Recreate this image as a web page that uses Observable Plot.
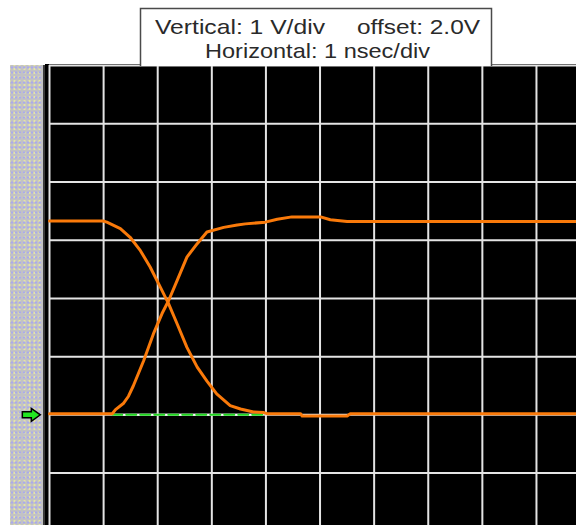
<!DOCTYPE html>
<html>
<head>
<meta charset="utf-8">
<script src="https://cdn.jsdelivr.net/npm/d3@7"></script>
<script src="https://cdn.jsdelivr.net/npm/@observablehq/plot@0.6"></script>
<style>
  html, body { margin: 0; padding: 0; background: #fff; }
  #wrap { position: relative; width: 576px; height: 525px; overflow: hidden; font-family: "Liberation Sans", Arial, sans-serif; }
  #screen { position: absolute; left: 45px; top: 64px; width: 531px; height: 461px; background: #000; }
  #strip { position: absolute; left: 10px; top: 65px; width: 33px; height: 460px;
    border-right: 2px solid #3a3a3a;
    background:
      radial-gradient(circle, #a9a9ee 0.9px, transparent 1.3px) 0 0 / 4px 5px,
      radial-gradient(circle, #e4e4a6 0.9px, transparent 1.3px) 2px 2px / 5px 4px,
      #c2c2c4; }
  #title { position: absolute; left: 0; top: 0; }
  #chart { position: absolute; left: 0; top: 0; }
</style>
</head>
<body>
<div id="wrap">
  <div id="strip"></div>
  <div id="screen"></div>
  <div id="chart"></div>
  <svg id="title" width="576" height="66">
    <rect x="140.5" y="8.5" width="351" height="60" fill="#fff" stroke="#4a4a4a" stroke-width="1.5"></rect>
    <text x="155" y="34" font-size="21" fill="#2a2a2a" textLength="170" lengthAdjust="spacingAndGlyphs" font-family="Liberation Sans, Arial, sans-serif">Vertical: 1 V/div</text>
    <text x="357" y="34" font-size="21" fill="#2a2a2a" textLength="123" lengthAdjust="spacingAndGlyphs" font-family="Liberation Sans, Arial, sans-serif">offset: 2.0V</text>
    <text x="205" y="58" font-size="21" fill="#2a2a2a" textLength="225" lengthAdjust="spacingAndGlyphs" font-family="Liberation Sans, Arial, sans-serif">Horizontal: 1 nsec/div</text>
  </svg>
</div>
<script>
// Time in ns (1 ns/div), voltage in V (1 V/div) relative to the reference marker
const timeFall = [0, 0.99, 1.06, 1.31, 1.49, 1.68, 1.86, 2.05, 2.20, 2.36, 2.54, 2.73, 2.91, 3.09, 3.34, 3.53, 3.77, 3.96, 4.02, 4.64, 4.67, 5.50, 5.56, 9.74];
const voltFall = [3.33, 3.33, 3.31, 3.20, 3.05, 2.82, 2.54, 2.19, 1.91, 1.56, 1.16, 0.82, 0.58, 0.36, 0.16, 0.10, 0.05, 0.04, 0.02, 0.02, -0.02, -0.02, 0.02, 0.02];

const timeRise = [0, 1.16, 1.22, 1.37, 1.46, 1.55, 1.74, 1.92, 2.08, 2.20, 2.36, 2.54, 2.73, 2.91, 3.22, 3.47, 3.62, 3.99, 4.21, 4.48, 5.01, 5.19, 5.50, 9.74];
const voltRise = [0.02, 0.02, 0.09, 0.20, 0.32, 0.50, 0.93, 1.39, 1.74, 1.96, 2.31, 2.71, 2.94, 3.14, 3.22, 3.26, 3.28, 3.31, 3.36, 3.40, 3.40, 3.35, 3.32, 3.32];

// green reference (ground) segment
const refStart = 1.16;
const refEnd = 3.93;
const refLevel = 0;
const markerTime = -0.336;

// grid divisions
const xDivs = [0, 1, 2, 3, 4, 5, 6, 7, 8, 9];
const yDivs = [-1, 0, 1, 2, 3, 4, 5, 6];

const fall = timeFall.map((t, i) => ({t, v: voltFall[i]}));
const rise = timeRise.map((t, i) => ({t, v: voltRise[i]}));
const ref = [{t: refStart, v: refLevel}, {t: refEnd, v: refLevel}];

const arrowSymbol = {
  draw(ctx, size) {
    ctx.moveTo(-9, -3);
    ctx.lineTo(0, -3);
    ctx.lineTo(0, -6.5);
    ctx.lineTo(9, 0);
    ctx.lineTo(0, 6.5);
    ctx.lineTo(0, 3);
    ctx.lineTo(-9, 3);
    ctx.closePath();
  }
};

const orange = "#fa7a0a";

const chart = Plot.plot({
  width: 576,
  height: 525,
  marginLeft: 49,
  marginRight: 0,
  marginTop: 65,
  marginBottom: 0,
  x: {domain: [0, 9.74], axis: null},
  y: {domain: [-1.9, 6], axis: null},
  style: {background: "transparent", overflow: "visible"},
  marks: [
    Plot.ruleX(xDivs, {stroke: "#e4e4e4", strokeWidth: 2}),
    Plot.ruleY(yDivs, {stroke: "#e4e4e4", strokeWidth: 2}),
    Plot.line(ref, {x: "t", y: "v", stroke: "#ffffff", strokeWidth: 2}),
    Plot.line(ref, {x: "t", y: "v", stroke: "#1fd81f", strokeWidth: 2, strokeDasharray: "10,4"}),
    Plot.line(fall, {x: "t", y: "v", stroke: orange, strokeWidth: 3, strokeLinejoin: "round"}),
    Plot.line(rise, {x: "t", y: "v", stroke: orange, strokeWidth: 3, strokeLinejoin: "round"}),
    Plot.dot([{t: markerTime, v: refLevel}], {x: "t", y: "v", symbol: arrowSymbol, fill: "#22e622", stroke: "#000", strokeWidth: 1.5, r: 6})
  ]
});
document.getElementById("chart").appendChild(chart);
</script>
</body>
</html>
